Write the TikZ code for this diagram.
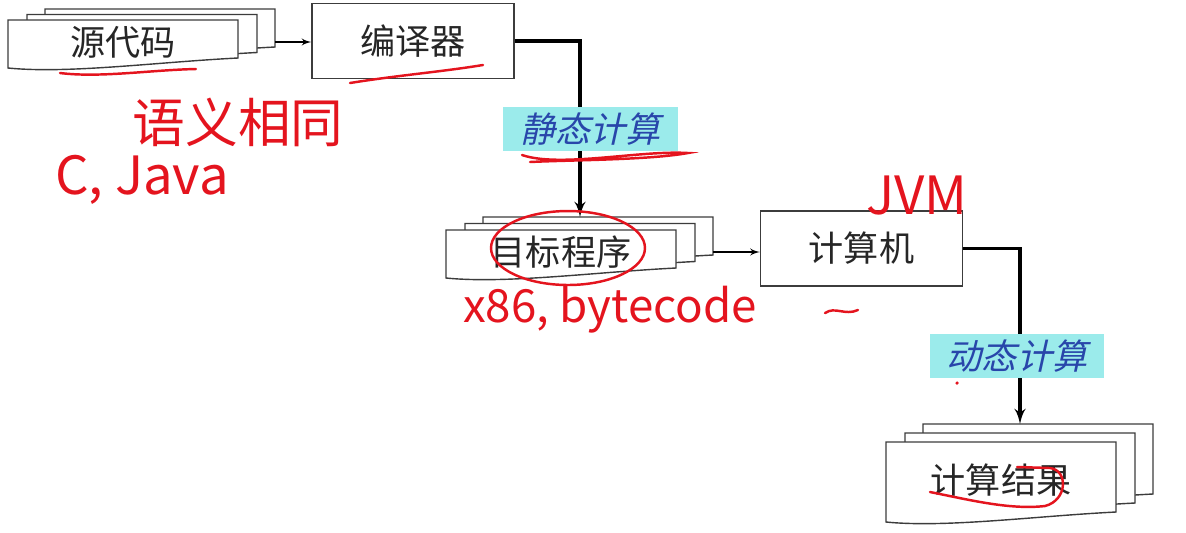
\documentclass[tikz,border=0pt]{standalone}
\usepackage{fontspec}
\newfontfamily\cjk{Noto Sans CJK SC}
\newfontfamily\cjkslant[FakeSlant=0.22]{Noto Sans CJK SC}
\usetikzlibrary{arrows}

\definecolor{labelcyan}{RGB}{155,235,235}
\definecolor{labelblue}{RGB}{40,70,170}
\definecolor{inkred}{RGB}{228,20,30}
\definecolor{boxline}{RGB}{60,60,60}

% one page of a document stack: x, y, height
\newcommand{\docsheet}[3]{%
  \begin{scope}[shift={(#1,#2)}]
    \filldraw[sheet] (0,0) -- (230,0) -- (230,#3-10)
      .. controls (150,#3-6) and (60,#3+6) .. (0,#3) -- cycle;
  \end{scope}}

% three pages: name, x, y, height, offset, text
\newcommand{\docstack}[6]{%
  \docsheet{#2+37}{#3-2*#5}{#4}
  \docsheet{#2+19}{#3-#5}{#4}
  \docsheet{#2}{#3}{#4}
  \node[doctext] (#1) at (#2+115,#3+#4/2-2) {#6};
  \coordinate (#1-out) at (#2+267,#3+#4/2-2);
  \coordinate (#1-in) at (#2+134,#3-2*#5);}

\begin{document}
\begin{tikzpicture}[x=0.02cm,y=-0.02cm,>=latex',
    sheet/.style={draw=boxline,fill=white,line width=0.8pt},
    box/.style={draw=boxline,line width=0.8pt,minimum width=4.04cm,minimum height=1.5cm,
      text=black!85,font=\cjk\fontsize{20}{24}\selectfont},
    doctext/.style={text=black!85,font=\cjk\fontsize{20}{24}\selectfont},
    calclabel/.style={fill=labelcyan,text=labelblue,minimum width=3.5cm,minimum height=0.84cm,
      font=\cjkslant\fontsize{20}{24}\selectfont},
    flow/.style={->,line width=0.9pt},
    mainflow/.style={->,line width=2pt},
    ink/.style={draw=inkred,line width=1.4pt,line cap=round},
    inktext/.style={text=inkred,font=\cjk\fontsize{#1}{#1}\selectfont},
    inktext/.default=28]

    \useasboundingbox (0,0) rectangle (1186,532);

    \docstack{src}{8}{20}{48}{5.5}{源代码}
    \node[box] (cmp) at (413,41) {编译器};
    \docstack{tgt}{446}{230}{48}{6.5}{目标程序}
    \node[box] (pc) at (861.5,248.5) {计算机};
    \docstack{res}{886}{442}{80}{9}{计算结果}

    \draw[flow] (src-out) -- (src-out -| cmp.west);
    \draw[mainflow] (cmp.east) -| (tgt-in);
    \node[calclabel] (static) at (590.5,129) {静态计算};
    \draw[flow] (tgt-out) -- (tgt-out -| pc.west);
    \draw[mainflow] (pc.east) -| (res-in);
    \node[calclabel] (dynamic) at (1017,356) {动态计算};

    % red notes written over the slide
    \node[inktext=30] (same) at (238,122) {语义相同};
    \node[inktext=30] (langs) at (142,180) {C, Java};
    \node[inktext=26] (codes) at (610,310) {x86, bytecode};
    \node[inktext=30] (jvm) at (917,196) {JVM};

    \draw[ink] (60,73) .. controls (100,78) and (150,70) .. (196,69);
    \draw[ink] (350,83) .. controls (400,75) and (440,72) .. (483,65);
    \draw[ink] (522,155) .. controls (560,168) and (640,150) .. (688,153)
      .. controls (650,160) and (570,160) .. (530,162);
    \draw[ink] (568,248) ellipse [x radius=1.54cm,y radius=0.74cm];
    \draw[ink] (825,313) .. controls (835,306) and (845,316) .. (858,310);
    \fill[inkred] (957,383) circle [radius=1pt];
    \draw[ink] (930,492) .. controls (970,500) and (1010,510) .. (1045,506)
      .. controls (1068,500) and (1068,470) .. (1050,468) -- (1017,467);

\end{tikzpicture}
\end{document}
